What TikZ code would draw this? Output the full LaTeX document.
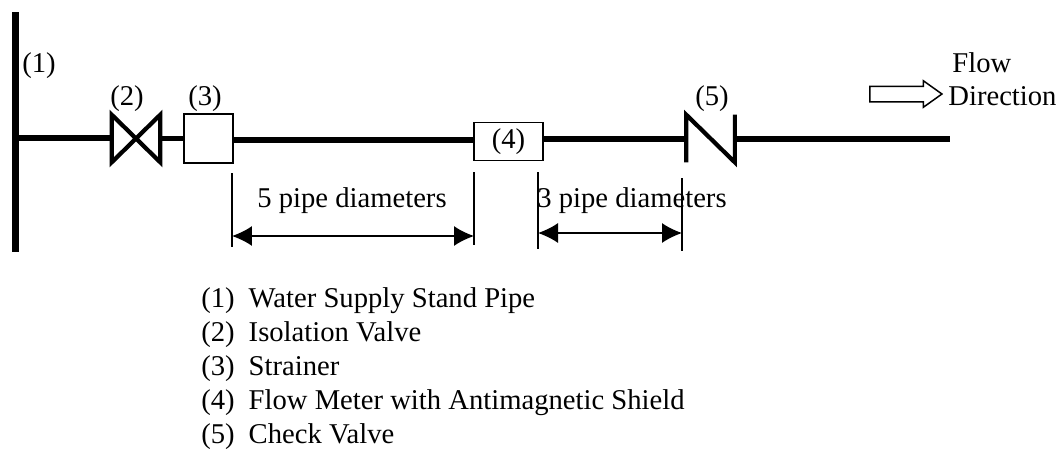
\documentclass[tikz,border=0pt]{standalone}
\usepackage{fontspec}
\setmainfont{Liberation Serif}
\usetikzlibrary{positioning}
\usetikzlibrary{shapes.arrows}
\usetikzlibrary{arrows.meta}

\begin{document}
\begin{tikzpicture}[
    x=0.02cm, y=-0.02cm,
    every node/.style={font=\fontsize{16.3}{19}\selectfont},
    stand/.style={line width=4pt},
    pipe/.style={line width=3pt},
    device/.style={rectangle, draw, line width=1.1pt, fill=white, inner sep=0pt},
    valve/.style={rectangle, inner sep=0pt, minimum width=0.96cm, minimum height=0.94cm},
    valveline/.style={line width=2.4pt},
    tick/.style={line width=0.7pt},
    dim/.style={{Latex[length=0.4cm,width=0.4cm]}-{Latex[length=0.4cm,width=0.4cm]}, line width=0.8pt},
    label/.style={anchor=base west, inner sep=0pt},
    item/.style={anchor=base west, inner sep=0pt}
]
    \useasboundingbox (0,0) rectangle (1064,451);

    % Stand pipe
    \coordinate (top) at (15.5,12);
    \coordinate (bottom) at (15.5,252);
    \draw[stand] (top) -- (bottom);
    \coordinate (tee) at (15.5,138);

    % Devices on the line
    \node[valve] (isol) at (136,138.5) {};
    \node[device, minimum width=0.98cm, minimum height=0.98cm] (strainer) at (208.5,138.5) {};
    \node[device, minimum width=1.38cm, minimum height=0.76cm] (meter) at (508.5,141.5) {(4)};
    \node[valve] (check) at (710.5,138.5) {};
    \coordinate (end) at (950,139);

    % Pipe runs
    \draw[pipe] (tee) -- (tee -| isol.west);
    \draw[pipe] (isol.east) -- (strainer.west);
    \draw[pipe] (strainer.east |- 0,140) -- (meter.west |- 0,140);
    \draw[pipe] (meter.east |- 0,139) -- (check.west |- 0,139);
    \draw[pipe] (check.east |- 0,139) -- (end);

    % Valve symbols
    \draw[valveline] (isol.north west) -- (isol.south west) -- (isol.north east) -- (isol.south east) -- cycle;
    \draw[valveline] (check.south west) -- (check.north west) -- (check.south east) -- (check.north east);

    % Numbers
    \node[label] (n1) at (22,72) {(1)};
    \node[label] (n2) at (110,105) {(2)};
    \node[label] (n3) at (188,105) {(3)};
    \node[label] (n5) at (695,105) {(5)};

    % Flow direction
    \node[single arrow, draw, line width=0.85pt, inner sep=0pt, text height=0.28cm, text depth=0cm, text width=0pt,
        minimum height=1.44cm, single arrow head extend=0.11cm, single arrow tip angle=71] (flow) at (900.5,94) {};
    \node[label] (flowa) at (952,72) {Flow};
    \node[label] (flowb) at (948,105) {Direction};

    % Dimensions
    \coordinate (a1) at (232,173);
    \coordinate (a2) at (232,247);
    \coordinate (b1) at (474,172);
    \coordinate (b2) at (474,245);
    \coordinate (c1) at (538,172);
    \coordinate (c2) at (538,249);
    \coordinate (d1) at (682,178);
    \coordinate (d2) at (682,251);
    \draw[tick] (a1) -- (a2);
    \draw[tick] (b1) -- (b2);
    \draw[tick] (c1) -- (c2);
    \draw[tick] (d1) -- (d2);
    \coordinate (a3) at (232,236);
    \coordinate (b3) at (474,236);
    \coordinate (c3) at (538,233);
    \coordinate (d3) at (682,233);
    \draw[dim] (a3) -- (b3);
    \draw[dim] (c3) -- (d3);
    \node[label] (five) at (257,207) {5 pipe diameters};
    \node[label] (three) at (537,207) {3 pipe diameters};

    % Legend
    \node[item] (l1) at (201,307) {(1)\hspace{0.28cm}Water Supply Stand Pipe};
    \node[item] (l2) at (201,341) {(2)\hspace{0.28cm}Isolation Valve};
    \node[item] (l3) at (201,375) {(3)\hspace{0.28cm}Strainer};
    \node[item] (l4) at (201,409) {(4)\hspace{0.28cm}Flow Meter with Antimagnetic Shield};
    \node[item] (l5) at (201,443) {(5)\hspace{0.28cm}Check Valve};
\end{tikzpicture}
\end{document}
